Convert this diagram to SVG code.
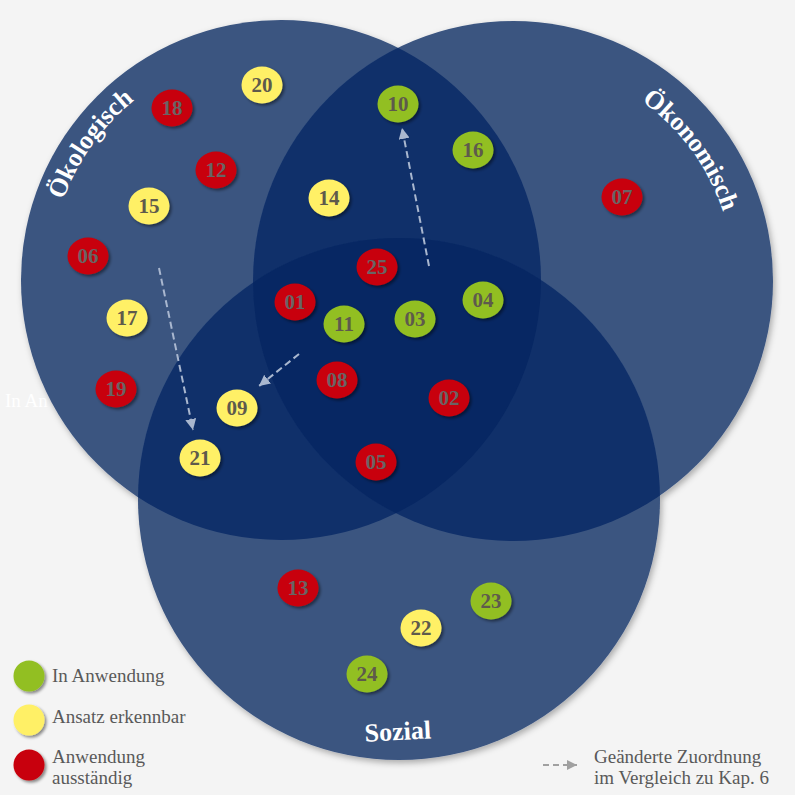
<svg xmlns="http://www.w3.org/2000/svg" width="795" height="795" viewBox="0 0 795 795">
<style>
.bg{fill:#f4f4f4}
.s1{fill:#3a5480}
.s2{fill:#10306a}
.s3{fill:#072763}
.lbl{font-family:"Liberation Serif","DejaVu Serif",serif;font-weight:bold;font-size:26px;fill:#ffffff}
.node ellipse{filter:url(#sh)}
.node text{font-family:"Liberation Serif","DejaVu Serif",serif;font-weight:bold;font-size:21px;fill:#6a6464;text-anchor:middle}
.red ellipse{fill:#c8000a}
.yel ellipse{fill:#fff066}
.grn ellipse{fill:#92bf22}
.yel text,.grn text{fill:#5e5a4c}
.conn{fill:none;stroke:#a9b7cf;stroke-width:2;stroke-dasharray:7 4}
.leg{font-family:"Liberation Serif","DejaVu Serif",serif;font-size:19px;fill:#595959}
.legarrow{fill:none;stroke:#a0a0a0;stroke-width:2;stroke-dasharray:6 4}
</style>
<defs>
<filter id="sh" x="-30%" y="-30%" width="170%" height="170%"><feDropShadow dx="2" dy="2" stdDeviation="1.5" flood-color="#000" flood-opacity="0.45"/></filter>
<filter id="bigsh" x="-10%" y="-10%" width="125%" height="125%"><feDropShadow dx="2" dy="3" stdDeviation="3" flood-color="#000" flood-opacity="0.3"/></filter>
<clipPath id="cA"><circle cx="281" cy="280" r="260"/></clipPath>
<clipPath id="cB"><circle cx="513" cy="281" r="260"/></clipPath>
<marker id="ah" viewBox="0 0 10 10" refX="10" refY="5" markerWidth="11" markerHeight="11" markerUnits="userSpaceOnUse" orient="auto"><path d="M0,0 L10,5 L0,10 z" fill="#a9b7cf"/></marker>
<marker id="ahg" viewBox="0 0 10 10" refX="10" refY="5" markerWidth="10" markerHeight="10" markerUnits="userSpaceOnUse" orient="auto"><path d="M0,0 L10,5 L0,10 z" fill="#a0a0a0"/></marker>
<path id="arcA" d="M80.1,396 A232,232 0 0 1 321.3,51.5"/>
<path id="arcB" d="M437.4,73.3 A221,221 0 0 1 704.4,391.5"/>
</defs>
<rect class="bg" x="0" y="0" width="795" height="795"/>
<text class="leg" x="5" y="407" style="fill:#ffffff">In An</text>
<g id="sets">
<g filter="url(#bigsh)">
<circle id="set-oekologisch" class="s1" cx="281" cy="280" r="260"/>
<circle id="set-oekonomisch" class="s1" cx="513" cy="281" r="260"/>
<circle id="set-sozial" class="s1" cx="399" cy="499" r="261"/>
</g>
<circle class="s2" cx="513" cy="281" r="260" clip-path="url(#cA)"/>
<circle class="s2" cx="399" cy="499" r="261" clip-path="url(#cA)"/>
<circle class="s2" cx="399" cy="499" r="261" clip-path="url(#cB)"/>
<g clip-path="url(#cA)"><circle class="s3" cx="399" cy="499" r="261" clip-path="url(#cB)"/></g>
</g>
<g id="set-labels">
<text class="lbl"><textPath href="#arcA" startOffset="265" text-anchor="middle">Ökologisch</textPath></text>
<text class="lbl"><textPath href="#arcB" startOffset="284" text-anchor="middle">Ökonomisch</textPath></text>
<text class="lbl" x="398" y="740" text-anchor="middle" transform="rotate(-3 398 735)">Sozial</text>
</g>
<g id="connectors">
<path class="conn" d="M159,268 L193,430" marker-end="url(#ah)"/>
<path class="conn" d="M299,354 L259,386" marker-end="url(#ah)"/>
<path class="conn" d="M429,266 L402,128" marker-end="url(#ah)"/>
</g>
<g id="nodes">
<g id="n20" class="node yel"><ellipse cx="262" cy="85" rx="20.5" ry="18.5"/><text x="262" y="92">20</text></g>
<g id="n18" class="node red"><ellipse cx="172" cy="108" rx="20.5" ry="18.5"/><text x="172" y="115">18</text></g>
<g id="n12" class="node red"><ellipse cx="216" cy="170" rx="20.5" ry="18.5"/><text x="216" y="177">12</text></g>
<g id="n15" class="node yel"><ellipse cx="149" cy="206" rx="20.5" ry="18.5"/><text x="149" y="213">15</text></g>
<g id="n06" class="node red"><ellipse cx="88" cy="256" rx="20.5" ry="18.5"/><text x="88" y="263">06</text></g>
<g id="n17" class="node yel"><ellipse cx="127" cy="318" rx="20.5" ry="18.5"/><text x="127" y="325">17</text></g>
<g id="n19" class="node red"><ellipse cx="116" cy="389" rx="20.5" ry="18.5"/><text x="116" y="396">19</text></g>
<g id="n10" class="node grn"><ellipse cx="398" cy="104" rx="20.5" ry="18.5"/><text x="398" y="111">10</text></g>
<g id="n16" class="node grn"><ellipse cx="473" cy="150" rx="20.5" ry="18.5"/><text x="473" y="157">16</text></g>
<g id="n14" class="node yel"><ellipse cx="329" cy="198" rx="20.5" ry="18.5"/><text x="329" y="205">14</text></g>
<g id="n07" class="node red"><ellipse cx="622" cy="197" rx="20.5" ry="18.5"/><text x="622" y="204">07</text></g>
<g id="n25" class="node red"><ellipse cx="377" cy="267" rx="20.5" ry="18.5"/><text x="377" y="274">25</text></g>
<g id="n01" class="node red"><ellipse cx="295" cy="302" rx="20.5" ry="18.5"/><text x="295" y="309">01</text></g>
<g id="n11" class="node grn"><ellipse cx="344" cy="324" rx="20.5" ry="18.5"/><text x="344" y="331">11</text></g>
<g id="n03" class="node grn"><ellipse cx="415" cy="319" rx="20.5" ry="18.5"/><text x="415" y="326">03</text></g>
<g id="n04" class="node grn"><ellipse cx="483" cy="300" rx="20.5" ry="18.5"/><text x="483" y="307">04</text></g>
<g id="n08" class="node red"><ellipse cx="337" cy="380" rx="20.5" ry="18.5"/><text x="337" y="387">08</text></g>
<g id="n02" class="node red"><ellipse cx="449" cy="398" rx="20.5" ry="18.5"/><text x="449" y="405">02</text></g>
<g id="n05" class="node red"><ellipse cx="376" cy="462" rx="20.5" ry="18.5"/><text x="376" y="469">05</text></g>
<g id="n09" class="node yel"><ellipse cx="237" cy="408" rx="20.5" ry="18.5"/><text x="237" y="415">09</text></g>
<g id="n21" class="node yel"><ellipse cx="200" cy="458" rx="20.5" ry="18.5"/><text x="200" y="465">21</text></g>
<g id="n13" class="node red"><ellipse cx="298" cy="588" rx="20.5" ry="18.5"/><text x="298" y="595">13</text></g>
<g id="n23" class="node grn"><ellipse cx="491" cy="601" rx="20.5" ry="18.5"/><text x="491" y="608">23</text></g>
<g id="n22" class="node yel"><ellipse cx="421" cy="628" rx="20.5" ry="18.5"/><text x="421" y="635">22</text></g>
<g id="n24" class="node grn"><ellipse cx="367" cy="674" rx="20.5" ry="18.5"/><text x="367" y="681">24</text></g>
</g>
<g id="legend">
<g class="node grn"><ellipse cx="29" cy="676" rx="15.5" ry="15.5"/></g>
<text class="leg" x="52" y="682">In Anwendung</text>
<g class="node yel"><ellipse cx="29" cy="720" rx="15.5" ry="15.5"/></g>
<text class="leg" x="52" y="723">Ansatz erkennbar</text>
<g class="node red"><ellipse cx="29" cy="765" rx="15.5" ry="15.5"/></g>
<text class="leg" x="52" y="763">Anwendung</text>
<text class="leg" x="52" y="784">ausständig</text>
<path class="legarrow" d="M543,765 L577,765" marker-end="url(#ahg)"/>
<text class="leg" x="594" y="763">Geänderte Zuordnung</text>
<text class="leg" x="594" y="784">im Vergleich zu Kap. 6</text>
</g>
</svg>
